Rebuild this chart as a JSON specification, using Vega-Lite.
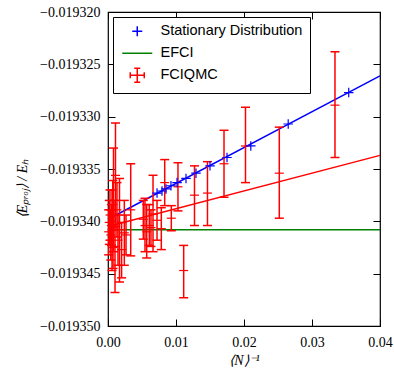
{
  "$schema": "https://vega.github.io/schema/vega-lite/v6.json",
  "width": 272,
  "height": 314,
  "autosize": {"type": "none"},
  "padding": {"left": 108, "top": 12, "right": 14, "bottom": 44},
  "config": {
    "view": {"stroke": "#000000", "strokeWidth": 1.2},
    "axis": {
      "grid": false,
      "domain": false,
      "labelFlush": false,
      "tickColor": "#000000",
      "tickSize": -7,
      "tickWidth": 1,
      "labelFont": "Liberation Serif, Times New Roman, serif",
      "labelFontSize": 14,
      "labelColor": "#000000",
      "titleFont": "Liberation Serif, Times New Roman, serif",
      "titleFontSize": 14,
      "titleFontWeight": "normal",
      "titleFontStyle": "italic",
      "titleColor": "#000000"
    }
  },
  "datasets": {
    "stationary": [
      {"x": 0.00721, "y": -0.0193373},
      {"x": 0.00794, "y": -0.0193371},
      {"x": 0.00853, "y": -0.0193369},
      {"x": 0.00926, "y": -0.0193366},
      {"x": 0.01015, "y": -0.0193363},
      {"x": 0.01147, "y": -0.0193359},
      {"x": 0.01294, "y": -0.0193354},
      {"x": 0.0150, "y": -0.0193347},
      {"x": 0.0175, "y": -0.0193339},
      {"x": 0.0210, "y": -0.0193328},
      {"x": 0.0265, "y": -0.0193307},
      {"x": 0.0354, "y": -0.0193277}
    ],
    "fciqmc": [
      {"x": 0.03338, "y": -0.0193289, "lo": -0.0193339, "hi": -0.0193238},
      {"x": 0.02519, "y": -0.0193354, "lo": -0.0193397, "hi": -0.0193310},
      {"x": 0.02022, "y": -0.0193328, "lo": -0.0193363, "hi": -0.0193291},
      {"x": 0.01706, "y": -0.0193345, "lo": -0.0193377, "hi": -0.0193313},
      {"x": 0.01463, "y": -0.0193373, "lo": -0.0193404, "hi": -0.0193343},
      {"x": 0.01272, "y": -0.0193375, "lo": -0.0193404, "hi": -0.0193347},
      {"x": 0.01113, "y": -0.0193447, "lo": -0.0193473, "hi": -0.0193423},
      {"x": 0.01029, "y": -0.0193367, "lo": -0.0193390, "hi": -0.0193344},
      {"x": 0.00931, "y": -0.0193397, "lo": -0.0193409, "hi": -0.0193385},
      {"x": 0.00834, "y": -0.0193363, "lo": -0.0193385, "hi": -0.0193341},
      {"x": 0.00784, "y": -0.0193407, "lo": -0.0193427, "hi": -0.0193387},
      {"x": 0.00721, "y": -0.0193399, "lo": -0.0193418, "hi": -0.0193380},
      {"x": 0.00662, "y": -0.0193393, "lo": -0.0193429, "hi": -0.0193356},
      {"x": 0.00632, "y": -0.0193406, "lo": -0.0193424, "hi": -0.0193389},
      {"x": 0.00607, "y": -0.0193404, "lo": -0.0193423, "hi": -0.0193384},
      {"x": 0.00569, "y": -0.0193410, "lo": -0.0193435, "hi": -0.0193384},
      {"x": 0.00544, "y": -0.0193404, "lo": -0.0193429, "hi": -0.0193378},
      {"x": 0.00519, "y": -0.0193398, "lo": -0.0193417, "hi": -0.0193380},
      {"x": 0.00334, "y": -0.0193389, "lo": -0.0193433, "hi": -0.0193345},
      {"x": 0.00265, "y": -0.0193413, "lo": -0.0193432, "hi": -0.0193394},
      {"x": 0.0024, "y": -0.0193411, "lo": -0.0193442, "hi": -0.0193380},
      {"x": 0.0020, "y": -0.0193427, "lo": -0.0193454, "hi": -0.0193401},
      {"x": 0.00169, "y": -0.0193408, "lo": -0.0193458, "hi": -0.0193359},
      {"x": 0.00147, "y": -0.0193418, "lo": -0.0193442, "hi": -0.0193394},
      {"x": 0.00132, "y": -0.0193389, "lo": -0.0193415, "hi": -0.0193363},
      {"x": 0.0011, "y": -0.0193356, "lo": -0.0193405, "hi": -0.0193306},
      {"x": 0.00103, "y": -0.0193424, "lo": -0.0193468, "hi": -0.0193380},
      {"x": 0.00081, "y": -0.0193380, "lo": -0.0193429, "hi": -0.0193330},
      {"x": 0.00074, "y": -0.0193425, "lo": -0.0193445, "hi": -0.0193406},
      {"x": 0.0007, "y": -0.0193384, "lo": -0.0193408, "hi": -0.0193361},
      {"x": 0.00059, "y": -0.0193408, "lo": -0.0193447, "hi": -0.0193370},
      {"x": 0.0005, "y": -0.0193404, "lo": -0.0193423, "hi": -0.0193384},
      {"x": 0.00041, "y": -0.0193413, "lo": -0.0193437, "hi": -0.0193389},
      {"x": 0.00029, "y": -0.0193394, "lo": -0.0193418, "hi": -0.0193370},
      {"x": 0.00019, "y": -0.0193401, "lo": -0.0193422, "hi": -0.0193380},
      {"x": 0.0001, "y": -0.0193410, "lo": -0.0193432, "hi": -0.0193389}
    ],
    "efci": [
      {"x": 0.0, "y": -0.0193408},
      {"x": 0.04, "y": -0.0193408}
    ],
    "fitStationary": [
      {"x": 0.0, "y": -0.0193398},
      {"x": 0.04, "y": -0.0193261}
    ],
    "fitFciqmc": [
      {"x": 0.0, "y": -0.0193405},
      {"x": 0.04, "y": -0.0193337}
    ]
  },
  "layer": [
    {
      "data": {"name": "efci"},
      "mark": {"type": "line", "color": "#008000", "strokeWidth": 1.5},
      "encoding": {
        "x": {
          "field": "x", "type": "quantitative",
          "scale": {"domain": [0, 0.04], "nice": false, "zero": false},
          "axis": {"orient": "bottom", "values": [0, 0.01, 0.02, 0.03, 0.04], "format": ".2f", "labelPadding": 16, "title": "⟨N⟩⁻¹", "titlePadding": 4}
        },
        "y": {
          "field": "y", "type": "quantitative",
          "scale": {"domain": [-0.01935, -0.01932], "nice": false, "zero": false},
          "axis": {"orient": "left", "values": [-0.01935, -0.019345, -0.01934, -0.019335, -0.01933, -0.019325, -0.01932], "format": ".6f", "labelPadding": 15, "title": "⟨Eₚᵣₒⱼ⟩ / Eₕ", "titlePadding": 10, "titleY": 176}
        }
      }
    },
    {
      "data": {"name": "fitStationary"},
      "mark": {"type": "line", "color": "#0000ff", "strokeWidth": 1.5},
      "encoding": {
        "x": {"field": "x", "type": "quantitative", "axis": {"orient": "top", "values": [0, 0.01, 0.02, 0.03, 0.04], "labels": false, "title": null}},
        "y": {"field": "y", "type": "quantitative", "axis": {"orient": "right", "values": [-0.01935, -0.019345, -0.01934, -0.019335, -0.01933, -0.019325, -0.01932], "labels": false, "title": null}}
      }
    },
    {
      "data": {"name": "fciqmc"},
      "mark": {"type": "rule", "color": "#ff0000", "strokeWidth": 1.5},
      "encoding": {
        "x": {"field": "x", "type": "quantitative", "axis": null},
        "y": {"field": "lo", "type": "quantitative", "axis": null},
        "y2": {"field": "hi"}
      }
    },
    {
      "data": {"name": "fciqmc"},
      "mark": {"type": "tick", "orient": "horizontal", "color": "#ff0000", "size": 9, "thickness": 1.5, "opacity": 1},
      "encoding": {
        "x": {"field": "x", "type": "quantitative", "axis": null},
        "y": {"field": "lo", "type": "quantitative", "axis": null}
      }
    },
    {
      "data": {"name": "fciqmc"},
      "mark": {"type": "tick", "orient": "horizontal", "color": "#ff0000", "size": 9, "thickness": 1.5, "opacity": 1},
      "encoding": {
        "x": {"field": "x", "type": "quantitative", "axis": null},
        "y": {"field": "hi", "type": "quantitative", "axis": null}
      }
    },
    {
      "data": {"name": "fciqmc"},
      "mark": {"type": "tick", "orient": "horizontal", "color": "#ff0000", "size": 9, "thickness": 1.2, "opacity": 1},
      "encoding": {
        "x": {"field": "x", "type": "quantitative", "axis": null},
        "y": {"field": "y", "type": "quantitative", "axis": null}
      }
    },
    {
      "data": {"name": "fitFciqmc"},
      "mark": {"type": "line", "color": "#ff0000", "strokeWidth": 1.5},
      "encoding": {
        "x": {"field": "x", "type": "quantitative", "axis": null},
        "y": {"field": "y", "type": "quantitative", "axis": null}
      }
    },
    {
      "data": {"name": "stationary"},
      "transform": [{"calculate": "'Stationary Distribution'", "as": "series"}],
      "mark": {"type": "point", "filled": false, "strokeWidth": 1.2, "size": 90, "opacity": 1},
      "encoding": {
        "x": {"field": "x", "type": "quantitative", "axis": null},
        "y": {"field": "y", "type": "quantitative", "axis": null},
        "color": {
          "field": "series", "type": "nominal",
          "scale": {"domain": ["Stationary Distribution", "EFCI", "FCIQMC"], "range": ["#0000ff", "#008000", "#ff0000"]},
          "legend": {
            "orient": "top-left", "offset": 5, "padding": 7, "title": null,
            "fillColor": "#ffffff", "strokeColor": "#000000",
            "labelFont": "Liberation Sans, Arial, Helvetica, sans-serif", "labelFontSize": 14.5, "labelColor": "#000000",
            "symbolSize": 100, "symbolStrokeWidth": 1.5, "symbolOffset": 10, "labelOffset": 16, "rowPadding": 5
          }
        },
        "shape": {
          "field": "series", "type": "nominal",
          "scale": {"domain": ["Stationary Distribution", "EFCI", "FCIQMC"], "range": ["M-1,0H1M0,-1V1", "M-3,0H3", "M-1.4,0H1.4M0,-1.4V1.4M-0.6,-1.4H0.6M-0.6,1.4H0.6M-1.4,-0.6V0.6M1.4,-0.6V0.6"]},
          "legend": {
            "orient": "top-left", "offset": 5, "padding": 7, "title": null,
            "fillColor": "#ffffff", "strokeColor": "#000000",
            "labelFont": "Liberation Sans, Arial, Helvetica, sans-serif", "labelFontSize": 14.5, "labelColor": "#000000",
            "symbolSize": 100, "symbolStrokeWidth": 1.5, "symbolOffset": 10, "labelOffset": 16, "rowPadding": 5
          }
        }
      }
    }
  ]
}
